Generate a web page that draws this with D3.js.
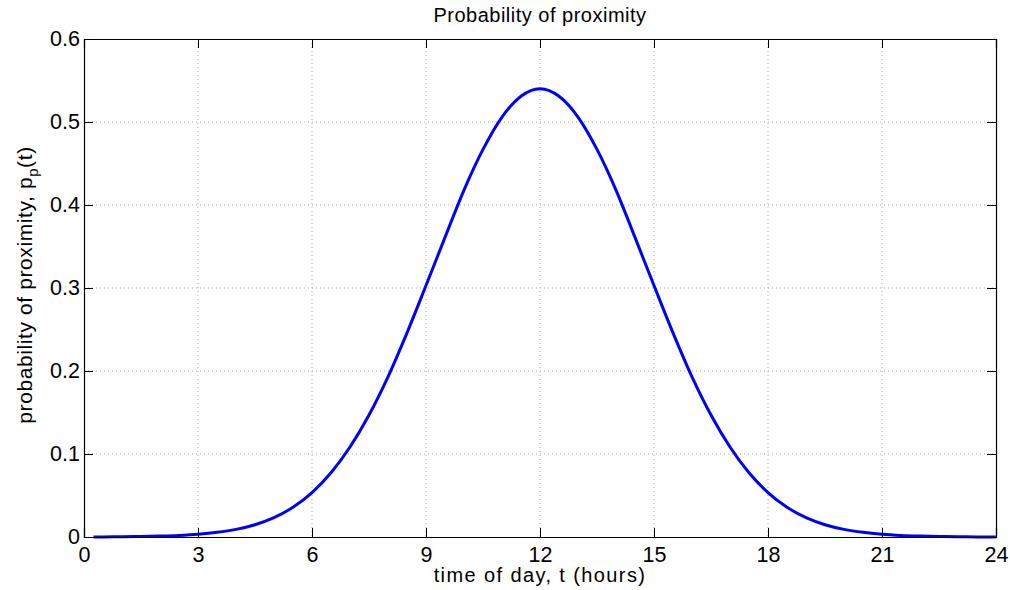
<!DOCTYPE html>
<html>
<head>
<meta charset="utf-8">
<script src="https://cdn.jsdelivr.net/npm/d3@7"></script>
<style>
  body { margin: 0; background: #fff; }
  text { font-family: "Liberation Sans", Arial, Helvetica, sans-serif; }
</style>
</head>
<body>
<svg id="drawing_region"></svg>
<script>
// values
const hours = [0.25, 0.5, 1, 1.5, 2, 2.5, 3, 3.5, 4, 4.5, 5, 5.5, 6, 6.5, 7, 7.5, 8, 8.5, 9, 9.5, 10, 10.5, 11, 11.5, 12,
               12.5, 13, 13.5, 14, 14.5, 15, 15.5, 16, 16.5, 17, 17.5, 18, 18.5, 19, 19.5, 20, 20.5, 21, 21.5, 22, 22.5, 23, 23.5, 24];
const proximity = [0.0001, 0.00015, 0.0003, 0.0006, 0.0011, 0.0019, 0.0033, 0.0056, 0.0092, 0.0148, 0.0233, 0.0358, 0.0535,
                   0.0774, 0.1084, 0.147, 0.193, 0.246, 0.303, 0.361, 0.418, 0.467, 0.506, 0.531, 0.540,
                   0.531, 0.506, 0.467, 0.418, 0.361, 0.303, 0.246, 0.193, 0.147, 0.1084, 0.0774, 0.0535,
                   0.0358, 0.0233, 0.0148, 0.0092, 0.0056, 0.0033, 0.0019, 0.0011, 0.0006, 0.0003, 0.00015, 0.0001];
const xTicks = [0, 3, 6, 9, 12, 15, 18, 21, 24];
const yTicks = [0, 0.1, 0.2, 0.3, 0.4, 0.5, 0.6];

const config = {
    width: 1010,
    height: 590,
    margin: {top: 39, right: 14, bottom: 53, left: 84}
};

const data = hours.map((h, i) => ({t: h, p: proximity[i]}));

const svg = d3.select('#drawing_region')
    .attr('width', config.width)
    .attr('height', config.height);

const inner_width = config.width - config.margin.left - config.margin.right;
const inner_height = config.height - config.margin.top - config.margin.bottom;

const chart = svg.append('g')
    .attr('transform', `translate(${config.margin.left}, ${config.margin.top})`);

const xscale = d3.scaleLinear().domain([0, 24]).range([0, inner_width]);
const yscale = d3.scaleLinear().domain([0, 0.6]).range([inner_height, 0]);

// dotted grid
chart.append('g').selectAll('line')
    .data(xTicks.slice(1, -1))
    .join('line')
    .attr('x1', d => xscale(d)).attr('x2', d => xscale(d))
    .attr('y1', 0).attr('y2', inner_height)
    .attr('stroke', '#a8a8a8')
    .attr('stroke-dasharray', '1,3');

chart.append('g').selectAll('line')
    .data(yTicks.slice(1, -1))
    .join('line')
    .attr('y1', d => yscale(d)).attr('y2', d => yscale(d))
    .attr('x1', 0).attr('x2', inner_width)
    .attr('stroke', '#a8a8a8')
    .attr('stroke-dasharray', '1,3');

// curve
const line = d3.line()
    .x(d => xscale(d.t))
    .y(d => yscale(d.p))
    .curve(d3.curveMonotoneX);

chart.append('path')
    .datum(data)
    .attr('d', line)
    .attr('fill', 'none')
    .attr('stroke', '#0000ff')
    .attr('stroke-width', 3);

// axes (ticks inward, box on all sides)
const fmt = d => d === 0 ? '0' : d3.format('.1f')(d);

chart.append('g')
    .attr('transform', `translate(0, ${inner_height})`)
    .call(d3.axisBottom(xscale).tickValues(xTicks).tickSize(-9).tickPadding(10).tickFormat(d3.format('d')));

chart.append('g')
    .call(d3.axisLeft(yscale).tickValues(yTicks).tickSize(-9).tickPadding(4).tickFormat(fmt));

chart.append('g')
    .call(d3.axisTop(xscale).tickValues(xTicks).tickSize(-9).tickFormat(''));

chart.append('g')
    .attr('transform', `translate(${inner_width}, 0)`)
    .call(d3.axisRight(yscale).tickValues(yTicks).tickSize(-9).tickFormat(''));

chart.selectAll('.domain').attr('stroke', '#000').attr('stroke-width', 1.2);
chart.selectAll('.tick line').attr('stroke', '#000');
chart.selectAll('.tick text')
    .attr('fill', '#000')
    .style('font-size', '21.5px');

// titles
svg.append('text')
    .attr('x', config.margin.left + inner_width / 2)
    .attr('y', 22)
    .attr('text-anchor', 'middle')
    .style('font-size', '20px')
    .style('letter-spacing', '0.5px')
    .text('Probability of proximity');

svg.append('text')
    .attr('x', config.margin.left + inner_width / 2)
    .attr('y', 582)
    .attr('text-anchor', 'middle')
    .style('font-size', '20px')
    .style('letter-spacing', '1.4px')
    .text('time of day, t (hours)');

const ylabel = svg.append('text')
    .attr('transform', `translate(32, 285) rotate(-90)`)
    .attr('text-anchor', 'middle')
    .style('font-size', '21px')
    .style('letter-spacing', '0.6px');
ylabel.append('tspan').text('probability of proximity, p');
ylabel.append('tspan').attr('dy', 6).style('font-size', '15px').text('p');
ylabel.append('tspan').attr('dy', -6).text('(t)');
</script>
</body>
</html>
